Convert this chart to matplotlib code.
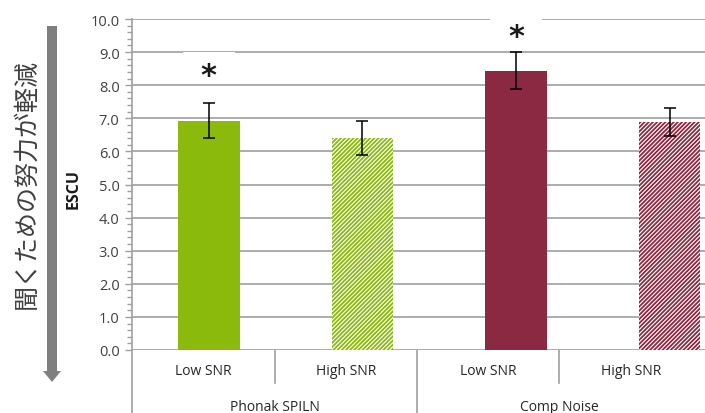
import matplotlib
matplotlib.use("Agg")
import matplotlib.pyplot as plt
from matplotlib.patches import FancyArrow

# ESCU scores per condition
groups = ["Phonak SPILN", "Comp Noise"]
conditions = ["Low SNR", "High SNR", "Low SNR", "High SNR"]
means = [6.93, 6.40, 8.44, 6.89]
errors = [0.52, 0.52, 0.56, 0.43]
significant = [True, False, True, False]
star_heights = [8.28, 9.46]

green = "#8cba0c"
wine = "#8b2942"
colors = [green, green, wine, wine]
hatched = [False, True, False, True]

plt.rcParams["font.family"] = ["Open Sans", "DejaVu Sans"]
plt.rcParams["hatch.linewidth"] = 1.3

W, H = 705, 414
fig = plt.figure(figsize=(W / 100, H / 100), dpi=100)

ax_left, ax_bottom, ax_top = 132, 351, 20
ax = fig.add_axes([ax_left / W, (H - ax_bottom) / H, (W - ax_left) / W,
                   (ax_bottom - ax_top) / H])

x = list(range(len(means)))
for xi, m, e, c, h in zip(x, means, errors, colors, hatched):
    if h:
        ax.bar(xi, m, width=0.40, facecolor="white", edgecolor=c,
               hatch="////////", linewidth=0, zorder=2)
    else:
        ax.bar(xi, m, width=0.40, color=c, linewidth=0, zorder=2)
    ax.errorbar(xi, m, yerr=e, fmt="none", ecolor="black", elinewidth=1.1,
                capsize=4, capthick=1.1, zorder=3)

# significance stars, each with a white label box breaking the gridline
si = 0
for xi, s in zip(x, significant):
    if s:
        ax.text(xi, star_heights[si] + 0.5, "\u2003" * 4, ha="center",
                va="center", fontsize=9, zorder=3.5,
                bbox=dict(boxstyle="square,pad=0.1", fc="white", ec="none"))
        ax.text(xi, star_heights[si], "*", ha="center", va="center",
                fontsize=22, fontweight="bold", color="#1a1a1a",
                family="DejaVu Sans", zorder=4)
        si += 1

ax.set_xlim(-0.5, 3.23)
ax.set_ylim(0, 10)
ax.set_yticks([i for i in range(11)])
ax.set_yticklabels([f"{i:.1f}" for i in range(11)], fontsize=10.5,
                   color="#404040")
ax.set_yticks([i * 0.2 for i in range(51)], minor=True)
ax.tick_params(axis="y", which="major", length=5, width=1, color="#a0a0a0",
               pad=4)
ax.tick_params(axis="y", which="minor", length=3.5, width=1, color="#a0a0a0")
ax.set_xticks([])
ax.yaxis.grid(True, color="#a6a6a6", linewidth=1.3, zorder=0)
ax.set_axisbelow(True)
for side in ["top", "right", "bottom"]:
    ax.spines[side].set_visible(False)
ax.spines["left"].set_color("#a0a0a0")
ax.spines["left"].set_linewidth(1.2)

# category table under the plot
tab = fig.add_axes([ax_left / W, 0, 570 / W, (H - ax_bottom) / H])
tab.set_xlim(0, 4)
tab.set_ylim(0, 1)
tab.axis("off")
tab.plot([0, 0], [0, 1], color="#a0a0a0", lw=1.2, clip_on=False)
for k in (1, 3):
    tab.plot([k, k], [0.47, 1], color="#a0a0a0", lw=1.2)
tab.plot([2, 2], [0, 1], color="#a0a0a0", lw=1.2)
for i, lab in enumerate(conditions):
    tab.text(i + 0.5, 0.67, lab, ha="center", va="center", fontsize=10,
             color="#262626")
for j, g in enumerate(groups):
    tab.text(2 * j + 1, 0.11, g, ha="center", va="center", fontsize=10,
             color="#262626")

# y axis title and direction arrow
fig.text(74 / W, 1 - 189 / H, "ESCU", rotation=90, ha="center", va="center",
         fontsize=11.5, fontweight="bold", color="#1a1a1a")
fig.text(26 / W, 1 - 184 / H, "聞くための努力が軽減", rotation=90,
         ha="center", va="center", fontsize=18, color="#404040",
         family=["Noto Sans CJK JP", "DejaVu Sans"])
fig.patches.append(FancyArrow(52 / W, 1 - 27 / H, 0, -(383 - 27) / H,
                              width=10 / W, head_width=18 / W,
                              head_length=11 / H, length_includes_head=True,
                              transform=fig.transFigure, color="#7f7f7f",
                              linewidth=0))

fig.savefig("out.png", dpi=100)
